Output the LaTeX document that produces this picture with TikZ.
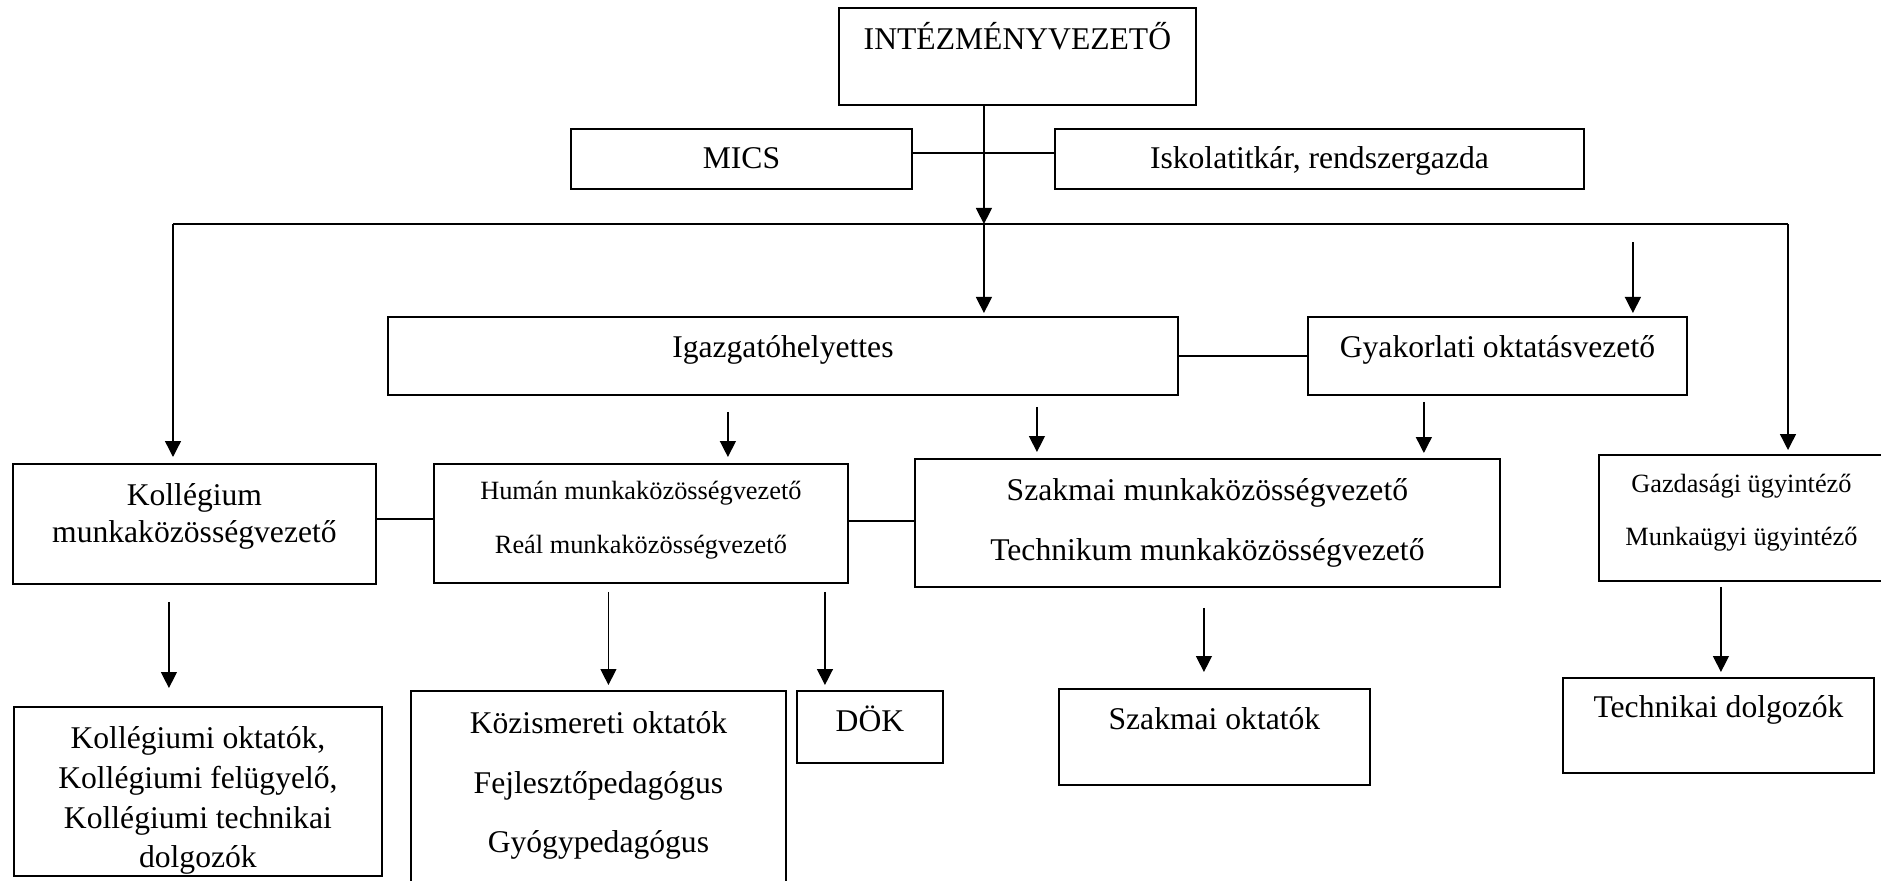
\documentclass[tikz,border=0pt]{standalone}
\usepackage{fontspec}
\setmainfont{Liberation Serif}
\usetikzlibrary{arrows.meta,calc}

\tikzset{
  box/.style={draw, line width=1.1pt, inner sep=0pt, align=center, anchor=north west,
              font=\fontsize{18}{21.6}\selectfont},
  link/.style={line width=1.1pt},
  arr/.style={line width=0.8pt, -{Triangle[width=.32cm,length=.32cm]}}
}

\begin{document}
\begin{tikzpicture}[x=0.02cm,y=-0.02cm]
  \useasboundingbox (0,0) rectangle (1881,881);

  % top level
  \node[box, minimum width=7.14cm, text height=.84cm, text depth=1.10cm] (int) at (838,7) {INTÉZMÉNYVEZETŐ};
  \node[box, minimum width=6.82cm, text height=.80cm, text depth=.40cm] (mics) at (570,128) {MICS};
  \node[box, minimum width=10.58cm, text height=.80cm, text depth=.40cm] (isk) at (1054,128) {Iskolatitkár, rendszergazda};

  % second level
  \node[box, minimum width=15.80cm, text height=.82cm, text depth=.74cm] (igh) at (387,316) {Igazgatóhelyettes};
  \node[box, minimum width=7.58cm, text height=.82cm, text depth=.74cm] (gyak) at (1307,316) {Gyakorlati oktatásvezető};

  % third level (multi-line: baseline is the last line)
  \node[box, minimum width=7.26cm, text height=1.58cm, text depth=.82cm,
        font=\fontsize{18}{21.5}\selectfont] (kol) at (12,463) {Kollégium\\munkaközösségvezető};
  \node[box, minimum width=8.28cm, text height=1.80cm, text depth=.58cm,
        font=\fontsize{15}{31.2}\selectfont] (hum) at (433,463) {Humán munkaközösségvezető\\Reál munkaközösségvezető};
  \node[box, minimum width=11.70cm, text height=2.04cm, text depth=.52cm,
        font=\fontsize{18}{34.6}\selectfont] (szak) at (914,458) {Szakmai munkaközösségvezető\\Technikum munkaközösségvezető};
  \node[box, minimum width=5.70cm, text height=1.82cm, text depth=.70cm,
        font=\fontsize{15}{30.6}\selectfont] (gazd) at (1598,454) {Gazdasági ügyintéző\\Munkaügyi ügyintéző};

  % bottom level
  \node[box, minimum width=7.36cm, text height=3.22cm, text depth=.16cm,
        font=\fontsize{18}{22.7}\selectfont] (kok) at (13,706) {Kollégiumi oktatók,\\Kollégiumi felügyelő,\\Kollégiumi technikai\\dolgozók};
  \node[box, minimum width=7.50cm, text height=3.24cm, text depth=.96cm,
        font=\fontsize{18}{34}\selectfont] (koz) at (410,690) {Közismereti oktatók\\Fejlesztőpedagógus\\Gyógypedagógus};
  \node[box, minimum width=2.92cm, text height=.82cm, text depth=.62cm] (dok) at (796,690) {DÖK};
  \node[box, minimum width=6.22cm, text height=.82cm, text depth=1.10cm] (sok) at (1058,688) {Szakmai oktatók};
  \node[box, minimum width=6.22cm, text height=.80cm, text depth=1.10cm] (tech) at (1562,677) {Technikai dolgozók};

  % bus line
  \coordinate (busL) at (173,224);
  \coordinate (busR) at (1788,224);
  \draw[link] (busL) -- (busR);

  % side links
  \draw[link] ([yshift=.12cm]mics.east) -- ([yshift=.12cm]isk.west);
  \draw[link] (igh.east) -- (gyak.west);
  \draw[link] ([yshift=.1cm]kol.east) -- ([yshift=.1cm]kol.east -| hum.west);
  \draw[link] ([yshift=.05cm]hum.east) -- ([yshift=.05cm]hum.east -| szak.west);

  % arrows from the top
  \draw[arr] ([xshift=-.67cm]int.south) coordinate (a1) -- (a1 |- busL);
  \draw[arr, shorten >=.06cm] (a1 |- busL) -- (a1 |- igh.north);
  \draw[arr, shorten >=.12cm] (busL) -- (busL |- kol.north);
  \draw[arr, shorten >=.08cm] (busR) -- (busR |- gazd.north);
  \draw[arr, shorten >=.06cm] ([xshift=2.71cm,yshift=1.48cm]gyak.north) -- ([xshift=2.71cm]gyak.north);

  % arrows to the third level
  \path ([xshift=1.74cm]hum.north) coordinate (h1)
        ([xshift=-3.41cm]szak.north) coordinate (s1)
        ([xshift=4.33cm]szak.north) coordinate (s2);
  \draw[arr, shorten <=.32cm, shorten >=.12cm] (igh.south -| h1) -- (h1);
  \draw[arr, shorten <=.22cm, shorten >=.12cm] (igh.south -| s1) -- (s1);
  \draw[arr, shorten <=.12cm, shorten >=.10cm] (gyak.south -| s2) -- (s2);

  % arrows to the bottom level
  \path ([xshift=-.58cm]kok.north) coordinate (k1)
        ([xshift=.2cm]koz.north) coordinate (k2)
        ([xshift=-.9cm]dok.north) coordinate (k3)
        ([xshift=-.21cm]sok.north) coordinate (k4)
        ([xshift=.05cm]tech.north) coordinate (k5);
  \draw[arr, shorten <=.34cm, shorten >=.36cm] (kol.south -| k1) -- (k1);
  \draw[arr, shorten <=.16cm, shorten >=.10cm] (hum.south -| k2) -- (k2);
  \draw[arr, shorten <=.16cm, shorten >=.10cm] (hum.south -| k3) -- (k3);
  \draw[arr, shorten <=.40cm, shorten >=.32cm] (szak.south -| k4) -- (k4);
  \draw[arr, shorten <=.10cm, shorten >=.10cm] (gazd.south -| k5) -- (k5);
\end{tikzpicture}
\end{document}
